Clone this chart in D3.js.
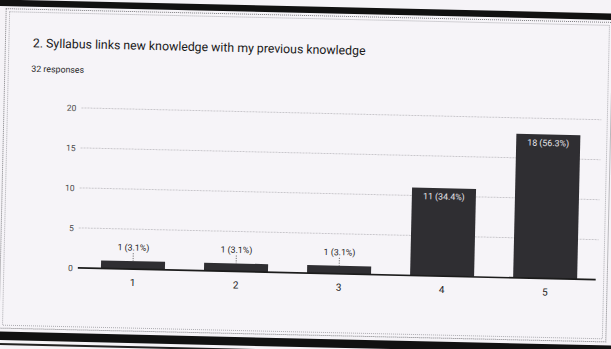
<!DOCTYPE html>
<html>
<head>
<meta charset="utf-8">
<script src="https://cdn.jsdelivr.net/npm/d3@7"></script>
<style>
  html, body { margin: 0; padding: 0; background: #f5f3f7; }
  svg { display: block; }
</style>
</head>
<body>
<svg id="chart" width="611" height="349"></svg>
<script>
// Survey question and response counts per rating
const title = "2. Syllabus links new knowledge with my previous knowledge";
const subtitle = "32 responses";
const categories = ["1", "2", "3", "4", "5"];
const counts = [1, 1, 1, 11, 18];
const percents = ["3.1%", "3.1%", "3.1%", "34.4%", "56.3%"];
const yTicks = [0, 5, 10, 15, 20];

const W = 611, H = 349;
const svg = d3.select("#chart");

// the whole sheet sits slightly tilted
const page = svg.append("g").attr("transform", "rotate(1.3, 305, 175)");

page.append("rect")
  .attr("x", -40).attr("y", -40).attr("width", W + 80).attr("height", H + 80)
  .attr("fill", "#f5f3f7");

// black bands above and below the card
page.append("rect").attr("x", -40).attr("y", 6.5).attr("width", W + 80).attr("height", 6.5).attr("fill", "#111");
page.append("rect").attr("x", -40).attr("y", 338.5).attr("width", W + 80).attr("height", 8.5).attr("fill", "#111");
page.append("rect").attr("x", -40).attr("y", 350).attr("width", W + 80).attr("height", 2).attr("fill", "#222");

// double dotted frame of the card
page.append("rect")
  .attr("x", 2.5).attr("y", 15.5).attr("width", 607).attr("height", 319.5)
  .attr("fill", "#f6f4f8").attr("stroke", "#7d7d80").attr("stroke-width", 1)
  .attr("stroke-dasharray", "1 1");
page.append("rect")
  .attr("x", 6).attr("y", 18.5).attr("width", 600).attr("height", 313.5)
  .attr("fill", "none").attr("stroke", "#9a9a9e").attr("stroke-width", 0.8)
  .attr("stroke-dasharray", "1 1");

// heading
page.append("text")
  .attr("x", 30).attr("y", 53.5)
  .attr("font-family", "Roboto, 'Liberation Sans', Arial, sans-serif")
  .attr("font-size", 12.3)
  .attr("fill", "#1a1a1a")
  .text(title);

page.append("text")
  .attr("x", 29).attr("y", 78)
  .attr("font-family", "Roboto, 'Liberation Sans', Arial, sans-serif")
  .attr("font-size", 8.8)
  .attr("fill", "#2a2a2a")
  .text(subtitle);

// scales
const x = d3.scaleBand()
  .domain(categories)
  .range([83.5, 599])
  .paddingInner(0.379)
  .paddingOuter(0.19);

const y = d3.scaleLinear().domain([0, 20]).range([273, 113]);

const plotLeft = 80, plotRight = 600;

// horizontal grid lines
page.append("g")
  .selectAll("line")
  .data(yTicks.filter(t => t > 0))
  .join("line")
  .attr("x1", plotLeft).attr("x2", plotRight)
  .attr("y1", d => y(d)).attr("y2", d => y(d))
  .attr("stroke", "#c9c7cc").attr("stroke-width", 1)
  .attr("stroke-dasharray", "2 1");

// y axis tick labels
const yAxis = d3.axisLeft(y).tickValues(yTicks).tickSize(0).tickPadding(0);
const yg = page.append("g").attr("transform", `translate(75,0)`).call(yAxis);
yg.select(".domain").remove();
yg.selectAll("text")
  .attr("font-family", "Roboto, 'Liberation Sans', Arial, sans-serif")
  .attr("font-size", 8.5)
  .attr("fill", "#4a4a4a");

// bars
page.append("g")
  .selectAll("rect")
  .data(categories)
  .join("rect")
  .attr("x", d => x(d))
  .attr("width", x.bandwidth())
  .attr("y", (d, i) => y(counts[i]))
  .attr("height", (d, i) => y(0) - y(counts[i]))
  .attr("fill", "#2f2e32");

// baseline
page.append("line")
  .attr("x1", plotLeft).attr("x2", 598)
  .attr("y1", y(0)).attr("y2", y(0))
  .attr("stroke", "#1c1c1c").attr("stroke-width", 1.6);

// x axis tick labels
const xAxis = d3.axisBottom(x).tickSize(0).tickPadding(0);
const xg = page.append("g").attr("transform", `translate(0,${y(0)})`).call(xAxis);
xg.select(".domain").remove();
xg.selectAll("text")
  .attr("dy", null)
  .attr("y", 17)
  .attr("font-family", "Roboto, 'Liberation Sans', Arial, sans-serif")
  .attr("font-size", 10)
  .attr("fill", "#1e1e1e");

// value annotations
const ann = page.append("g")
  .attr("font-family", "Roboto, 'Liberation Sans', Arial, sans-serif")
  .attr("font-size", 8.8)
  .attr("text-anchor", "middle");

categories.forEach((c, i) => {
  const cx = x(c) + x.bandwidth() / 2;
  const top = y(counts[i]);
  const label = `${counts[i]} (${percents[i]})`;
  if (y(0) - top > 20) {
    ann.append("text")
      .attr("x", cx).attr("y", top + 11.5)
      .attr("fill", "#e6e4ea")
      .text(label);
  } else {
    const base = top - 10.5;
    ann.append("text")
      .attr("x", cx).attr("y", base)
      .attr("fill", "#1f1f1f")
      .text(label);
    ann.append("line")
      .attr("x1", cx).attr("x2", cx)
      .attr("y1", base + 2.5).attr("y2", top)
      .attr("stroke", "#555").attr("stroke-width", 0.8)
      .attr("stroke-dasharray", "1.2 1.2");
  }
});
</script>
</body>
</html>
